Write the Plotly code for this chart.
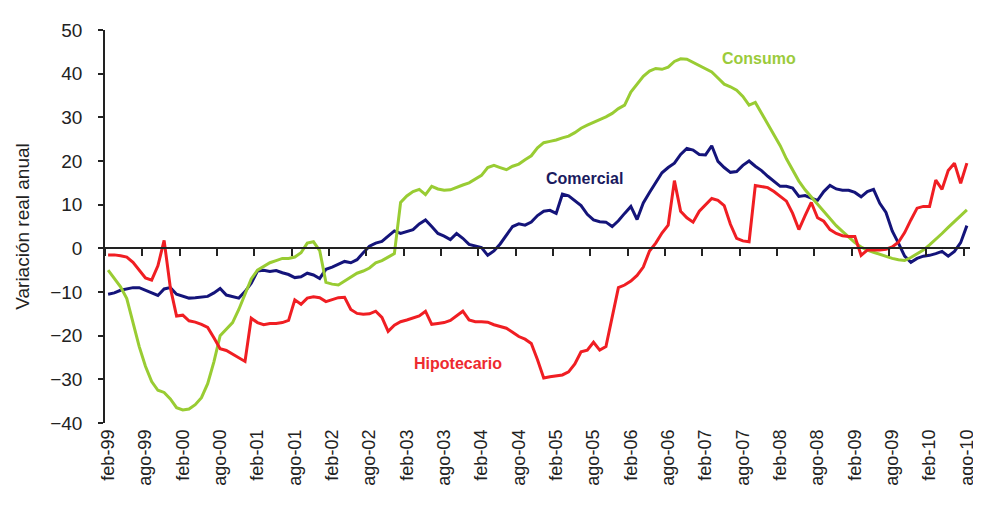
import plotly.graph_objects as go

MONTHS = ["ene", "feb", "mar", "abr", "may", "jun", "jul", "ago", "sep", "oct", "nov", "dic"]
# monthly categories feb-99 .. ago-10
categories = [f"{MONTHS[(1 + i) % 12]}-{(99 + (1 + i) // 12) % 100:02d}" for i in range(139)]

comercial = [
    -10.5, -10.2, -9.6, -9.3, -9.0, -9.0, -9.6, -10.2, -10.8, -9.3,
    -9.0, -10.5, -11.0, -11.4, -11.3, -11.2, -11.0, -10.2, -9.2, -10.7,
    -11.0, -11.4, -9.9, -8.0, -5.2, -5.0, -5.3, -5.1, -5.6, -6.0,
    -6.7, -6.5, -5.7, -6.1, -6.9, -4.8, -4.3, -3.6, -3.0, -3.3,
    -2.6, -1.0, 0.5, 1.2, 1.6, 2.8, 4.0, 3.4, 3.8, 4.3,
    5.6, 6.5, 5.0, 3.4, 2.8, 2.0, 3.4, 2.3, 0.9, 0.5,
    0.2, -1.6, -0.6, 1.0, 3.0, 5.0, 5.6, 5.3, 6.0, 7.5,
    8.5, 8.7, 8.0, 12.4, 12.0, 11.0, 9.8, 7.8, 6.5, 6.1,
    6.0, 5.0, 6.3, 8.0, 9.6, 6.6, 10.4, 12.8, 15.0, 17.3,
    18.5, 19.5, 21.5, 22.9, 22.5, 21.5, 21.4, 23.5, 19.9, 18.5,
    17.4, 17.6, 19.0, 20.0, 18.8, 17.8, 16.5, 15.3, 14.2, 14.2,
    13.8, 11.9, 12.1, 11.5, 11.0, 13.0, 14.4, 13.6, 13.3, 13.3,
    12.8, 11.8, 13.0, 13.5, 10.3, 8.2, 4.0, 1.2, -1.8, -3.2,
    -2.3, -1.8, -1.6, -1.2, -0.7, -1.8, -0.7, 1.3, 5.2,
]

consumo = [
    -5.0, -6.8, -8.8, -11.5, -17.0, -22.5, -27.0, -30.5, -32.5, -33.0,
    -34.5, -36.5, -37.0, -36.8, -35.8, -34.2, -31.0, -26.0, -20.0, -18.5,
    -17.0, -14.0, -10.5, -7.0, -5.0, -4.2, -3.3, -2.8, -2.3, -2.3,
    -2.0, -1.0, 1.2, 1.5, -0.5, -7.8, -8.2, -8.4, -7.5, -6.5,
    -5.7, -5.2, -4.5, -3.3, -2.8, -2.0, -1.2, 10.5, 12.0, 13.0,
    13.5, 12.3, 14.2, 13.6, 13.3, 13.4, 14.0, 14.5, 15.0, 15.8,
    16.7, 18.5, 19.0, 18.5, 18.0, 18.8, 19.3, 20.3, 21.2, 23.0,
    24.2, 24.5, 24.8, 25.3, 25.7, 26.5, 27.5, 28.2, 28.9, 29.5,
    30.1, 30.9, 32.0, 32.8, 35.8, 37.6, 39.4, 40.6, 41.2, 41.0,
    41.5, 42.8, 43.4, 43.3, 42.6, 41.8, 41.2, 40.4, 39.0, 37.6,
    37.0, 36.2, 34.8, 32.8, 33.4, 31.0, 28.5, 26.0, 23.5, 20.5,
    17.8, 15.4, 13.4, 11.8, 10.2, 8.5, 6.8, 5.2, 3.9, 2.5,
    1.3, 0.3, -0.4, -0.9, -1.4, -1.9, -2.3, -2.6, -2.8, -2.1,
    -1.3, -0.4, 0.8, 2.0, 3.4, 4.8, 6.1, 7.4, 8.8,
]

hipotecario = [
    -1.5, -1.5, -1.7, -2.0, -3.2, -5.0, -6.8, -7.3, -4.0, 1.8,
    -9.0, -15.5, -15.3, -16.6, -16.9, -17.4, -18.1, -20.5, -23.0, -23.4,
    -24.2, -25.2, -25.9, -16.0, -17.0, -17.5, -17.2, -17.2, -17.0, -16.5,
    -11.8, -12.8, -11.4, -11.1, -11.3, -12.2, -11.8, -11.3, -11.2, -14.0,
    -14.9, -15.1, -15.0, -14.4, -15.8, -19.0, -17.6, -16.8, -16.4, -16.0,
    -15.5, -14.4, -17.4, -17.2, -17.0, -16.5, -15.5, -14.4, -16.4, -16.8,
    -16.8, -16.9, -17.5, -17.9, -18.3, -19.2, -20.2, -20.8, -21.8, -25.5,
    -29.7, -29.4, -29.2, -29.0, -28.3, -26.5, -23.7, -23.3, -21.5, -23.3,
    -22.5, -16.0, -9.0, -8.4, -7.5, -6.2, -4.3, -0.6, 1.2, 3.5,
    5.3, 15.5, 8.5, 7.0, 6.0, 8.5, 10.0, 11.4, 11.0, 9.8,
    5.5, 2.3, 1.7, 1.5, 14.4, 14.2, 13.9, 13.0, 12.0, 10.8,
    8.0, 4.3, 7.5, 10.5, 7.0, 6.2, 4.3, 3.4, 2.9, 2.7,
    2.7, -1.6, -0.4, -0.4, -0.4, -0.2, 0.3, 1.4, 3.6, 6.5,
    9.2, 9.6, 9.6, 15.6, 13.5, 17.8, 19.5, 14.9, 19.5,
]

series_names = ["Comercial", "Consumo", "Hipotecario"]
series_colors = ["#14147A", "#99CC33", "#F01E23"]
label_colors = ["#1A1A5E", "#9BCB3B", "#EE2A2F"]
label_pos = [(76.6, 16.1), (104.6, 43.4), (56.3, -26.3)]

y_range = [-40, 50]
x_range = [-0.5, len(categories) - 0.5]

fig = go.Figure()
for name, vals, col in zip(series_names, [comercial, consumo, hipotecario], series_colors):
    fig.add_trace(go.Scatter(
        x=categories, y=vals, mode="lines", name=name,
        line=dict(color=col, width=3),
        xaxis="x2" if name == "Hipotecario" else "x",
    ))

for name, col, (ax, ay) in zip(series_names, label_colors, label_pos):
    fig.add_annotation(x=ax, y=ay, xref="x", yref="y", text=f"<b>{name}</b>",
                       showarrow=False, font=dict(family="Liberation Sans", size=16, color=col))

zero_pos = (0 - y_range[0]) / (y_range[1] - y_range[0])

fig.update_layout(
    width=981, height=510,
    margin=dict(l=97, r=13, t=22, b=95),
    paper_bgcolor="white", plot_bgcolor="white",
    showlegend=False,
    font=dict(family="Liberation Sans", size=19, color="#222222"),
    xaxis=dict(
        type="category", categoryorder="array", categoryarray=categories,
        range=x_range, tickmode="linear", tick0=0, dtick=6,
        tickangle=-90, showline=False, showgrid=False, zeroline=False,
        ticks="", ticklabelstandoff=2,
        tickfont=dict(family="Liberation Sans", size=18, color="#222222"),
    ),
    xaxis2=dict(
        type="category", categoryorder="array", categoryarray=categories,
        range=x_range, overlaying="x", anchor="free", position=zero_pos,
        tickmode="linear", tick0=0, dtick=6, tickson="boundaries",
        ticks="outside", ticklen=7, tickwidth=1.5, tickcolor="#222222",
        showline=True, linecolor="#222222", linewidth=1.5,
        showticklabels=False, showgrid=False, zeroline=False,
    ),
    yaxis=dict(
        range=y_range, tickmode="linear", tick0=-40, dtick=10,
        showline=True, linecolor="#222222", linewidth=1.5,
        ticks="outside", ticklen=5, tickwidth=1.5, tickcolor="#222222",
        showgrid=False, zeroline=False, ticklabelstandoff=12,
        tickfont=dict(family="Liberation Sans", size=19, color="#222222"),
        title=dict(text="Variación real anual", standoff=16,
                   font=dict(family="Liberation Sans", size=19, color="#222222")),
    ),
)

fig.write_html("out.html")
